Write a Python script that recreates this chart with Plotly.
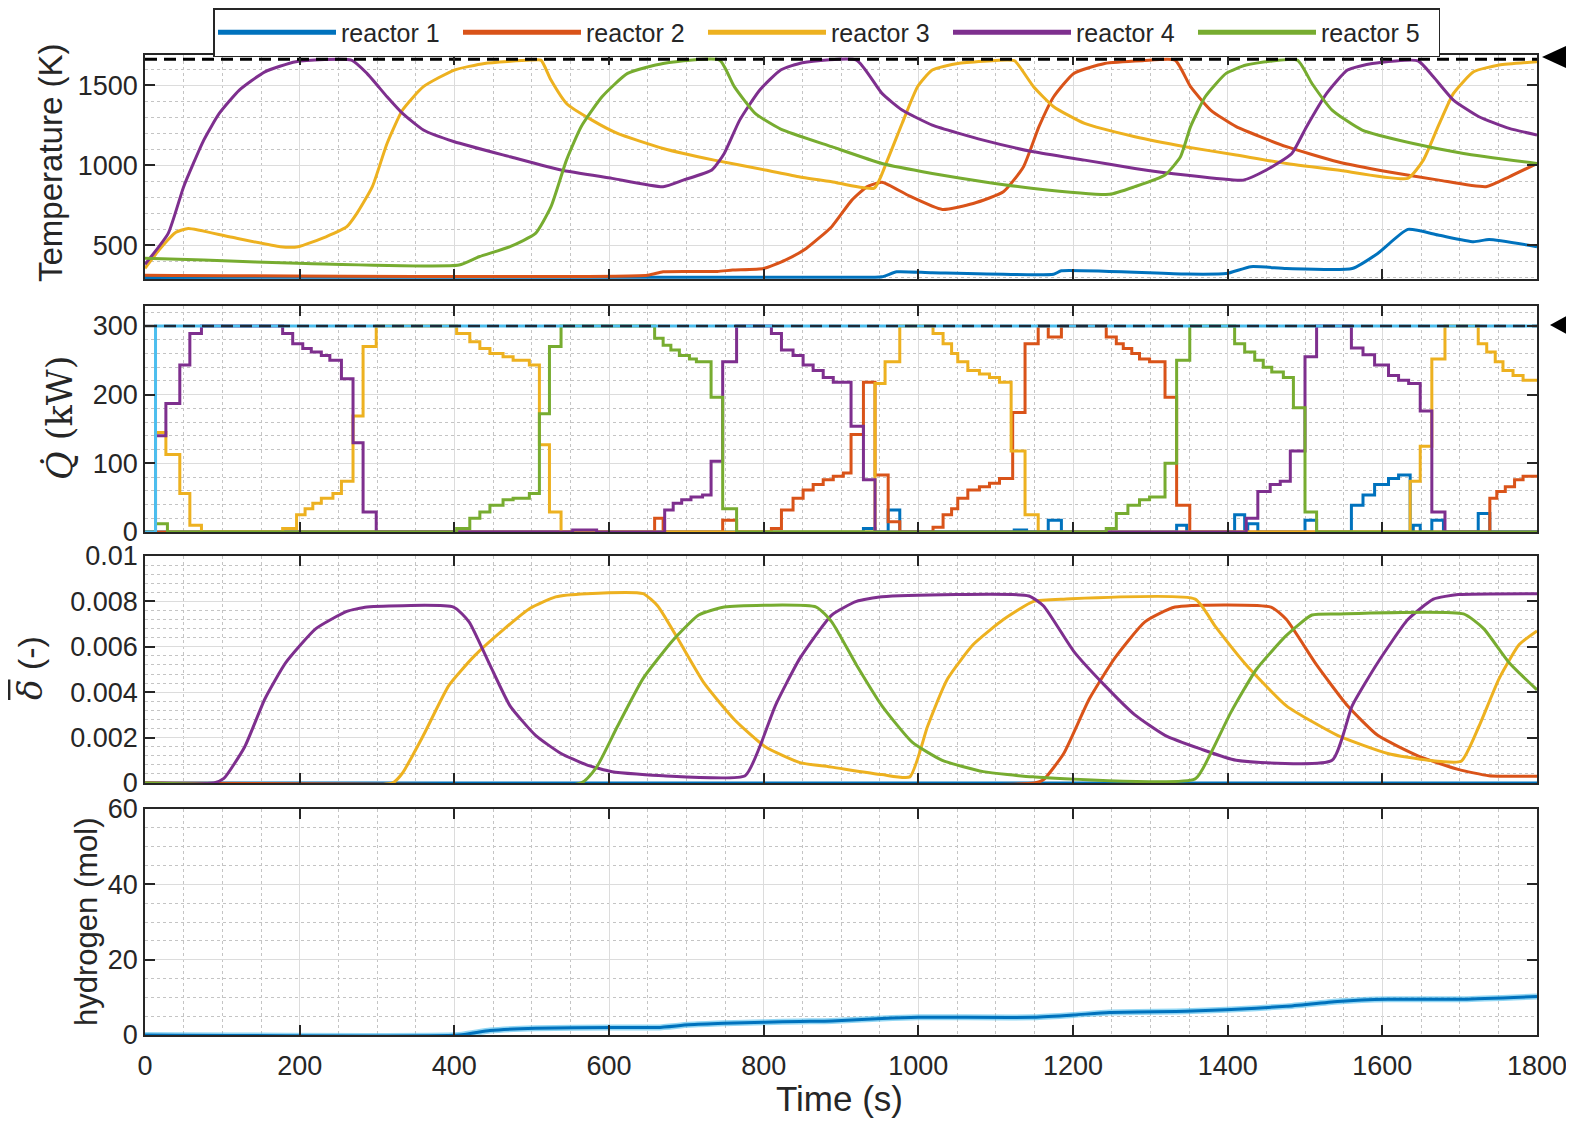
import plotly.graph_objects as go
from plotly.subplots import make_subplots

NAMES = ["reactor 1", "reactor 2", "reactor 3", "reactor 4", "reactor 5"]
COLORS = ["#0072BD", "#D95319", "#EDB120", "#7E2F8E", "#77AC30"]
CYAN = "#4DBEEE"

# ---------------- Temperature (K) ----------------
temp_t1 = [0, 900, 953, 972, 1018, 1175, 1185, 1345, 1398, 1430, 1476, 1561, 1594, 1633, 1672, 1718, 1738, 1800]
temp_v1 = [298, 299, 302, 333, 327, 318, 340, 319, 322, 365, 354, 354, 448, 598, 563, 521, 535, 490]

temp_t2 = [0, 650, 670, 740, 760, 800, 828, 855, 888, 914, 934, 953, 986, 1031, 1071, 1110, 1136, 1156, 1175,
           1201, 1241, 1290, 1332, 1352, 1378, 1411, 1476, 1542, 1607, 1673, 1734, 1764, 1800]
temp_v2 = [312, 312, 333, 335, 344, 354, 406, 479, 615, 781, 865, 893, 813, 723, 760, 833, 990, 1240, 1427,
           1573, 1635, 1652, 1656, 1490, 1344, 1240, 1115, 1021, 958, 906, 865, 927, 1010]

temp_t3 = [0, 20, 40, 56, 109, 175, 198, 234, 261, 274, 294, 313, 333, 360, 400, 439, 498, 512, 525, 545, 578,
           611, 670, 736, 802, 847, 888, 943, 960, 979, 999, 1018, 1051, 1116, 1125, 1149, 1175, 1215, 1280,
           1345, 1411, 1476, 1542, 1633, 1653, 1672, 1692, 1718, 1751, 1800]
temp_v3 = [355, 480, 580, 604, 552, 490, 490, 552, 615, 698, 865, 1135, 1344, 1490, 1594, 1635, 1656, 1656,
           1531, 1385, 1281, 1198, 1104, 1031, 969, 925, 896, 856, 1031, 1260, 1490, 1594, 1635, 1656, 1650,
           1490, 1365, 1260, 1177, 1115, 1063, 1010, 969, 917, 1031, 1240, 1448, 1583, 1625, 1646]

temp_t4 = [0, 30, 50, 76, 96, 122, 155, 195, 267, 287, 313, 333, 360, 400, 472, 538, 604, 670, 696, 733, 749,
           769, 795, 822, 850, 920, 953, 979, 1018, 1084, 1149, 1215, 1280, 1345, 1420, 1450, 1483, 1502,
           1528, 1555, 1587, 1646, 1666, 1692, 1725, 1764, 1800]
temp_v4 = [380, 573, 865, 1156, 1323, 1469, 1583, 1646, 1656, 1573, 1427, 1323, 1219, 1146, 1052, 969, 917,
           865, 906, 969, 1073, 1281, 1469, 1594, 1640, 1656, 1448, 1344, 1250, 1156, 1083, 1031, 979, 938,
           906, 969, 1073, 1240, 1448, 1594, 1635, 1652, 1552, 1406, 1302, 1229, 1188]

temp_t5 = [0, 76, 208, 406, 432, 472, 505, 525, 545, 564, 591, 624, 670, 743, 762, 789, 822, 888, 953, 1018,
           1084, 1149, 1247, 1280, 1319, 1339, 1352, 1371, 1398, 1424, 1490, 1509, 1535, 1574, 1640, 1705, 1800]
temp_v5 = [417, 406, 385, 375, 427, 490, 573, 740, 1031, 1240, 1427, 1573, 1635, 1656, 1490, 1323, 1225, 1115,
           1010, 948, 896, 854, 817, 865, 938, 1052, 1240, 1427, 1573, 1625, 1656, 1510, 1344, 1219, 1135,
           1073, 1010]

temp_limit = 1662

# ---------------- Heat input Q (kW), step changes ----------------
q_t1 = [0, 929, 944, 961, 976, 1124, 1140, 1168, 1185, 1334, 1347, 1409, 1422, 1426, 1439, 1500, 1515,
        1560, 1575, 1590, 1608, 1621, 1636, 1640, 1649, 1664, 1679, 1724, 1739, 1800]
q_v1 = [0, 5, 0, 32, 0, 3, 0, 17, 0, 10, 0, 25, 0, 12, 0, 17, 0,
        39, 54, 69, 78, 83, 0, 10, 0, 17, 0, 27, 0, 0]

q_t2 = [0, 659, 670, 747, 765, 810, 823, 838, 851, 864, 877, 890, 903, 913, 929, 944, 961, 976,
        1019, 1032, 1043, 1051, 1064, 1079, 1092, 1105, 1122, 1138, 1155, 1168, 1185, 1243, 1256, 1265,
        1276, 1286, 1299, 1319, 1334, 1351, 1739, 1748, 1759, 1771, 1782, 1800]
q_v2 = [0, 20, 0, 17, 0, 5, 32, 49, 61, 69, 76, 81, 86, 142, 218, 83, 15, 0,
        7, 25, 34, 49, 61, 66, 71, 78, 174, 274, 300, 284, 300, 284, 274, 267,
        260, 252, 248, 196, 39, 0, 49, 59, 66, 76, 81, 81]

q_t3 = [0, 13.6, 27, 45, 58, 73, 178, 196, 207, 217, 228, 243, 254, 269, 282, 299, 403, 420, 433, 446,
        463, 476, 497, 510, 523, 538, 944, 957, 976, 1019, 1032, 1043, 1051, 1064, 1079, 1092, 1105,
        1120, 1138, 1155, 1636, 1649, 1664, 1681, 1724, 1735, 1746, 1756, 1769, 1782, 1800]
q_v3 = [0, 145, 113, 56, 10, 0, 5, 25, 34, 42, 49, 56, 74, 169, 270, 300, 289, 277, 267, 260,
        255, 250, 243, 127, 29, 0, 216, 248, 300, 289, 274, 260, 248, 235, 230, 225, 218,
        118, 25, 0, 74, 125, 252, 300, 274, 262, 248, 235, 228, 221, 221]

q_t4 = [0, 13.6, 27, 45, 58, 73, 178, 191, 204, 215, 228, 239, 254, 269, 282, 299, 553, 584,
        672, 683, 694, 706, 721, 732, 747, 765, 810, 823, 838, 851, 864, 877, 890, 913, 929, 944,
        1424, 1439, 1455, 1468, 1481, 1500, 1515, 1560, 1575, 1590, 1608, 1621, 1634, 1649, 1664, 1681, 1800]
q_v4 = [0, 140, 187, 243, 289, 300, 289, 274, 267, 262, 257, 250, 223, 130, 29, 0, 3, 0,
        32, 42, 47, 51, 54, 103, 248, 300, 289, 265, 257, 243, 235, 225, 218, 154, 76, 0,
        20, 59, 69, 74, 118, 255, 300, 268, 258, 243, 228, 221, 216, 176, 29, 0, 0]

q_t5 = [0, 13.6, 29, 403, 420, 433, 446, 463, 476, 497, 510, 523, 538, 659, 670, 680, 691, 704, 713,
        732, 747, 765, 1243, 1256, 1271, 1286, 1299, 1319, 1334, 1351, 1409, 1422, 1435, 1446, 1457,
        1472, 1485, 1500, 1515, 1800]
q_v5 = [0, 12, 0, 5, 20, 29, 39, 47, 49, 56, 172, 270, 300, 282, 272, 265, 257, 252, 248,
        196, 34, 0, 5, 27, 39, 47, 51, 100, 250, 300, 274, 262, 250, 240, 233,
        225, 181, 29, 0, 0]

q_total_t = [0, 13.6, 1800]
q_total_v = [0, 300, 300]
q_limit = 300

# ---------------- Mean delta (-) ----------------
d_t1 = [0, 1800]
d_v1 = [0, 0]

d_t2 = [0, 1150, 1162, 1188, 1221, 1254, 1293, 1332, 1456, 1476, 1515, 1555, 1594, 1646, 1698, 1738, 1800]
d_v2 = [0, 0, 0.00015, 0.0013, 0.0037, 0.0055, 0.0071, 0.00775, 0.00775, 0.0072, 0.0052, 0.0034, 0.0021,
        0.0012, 0.0006, 0.00032, 0.0003]

d_t3 = [0, 320, 333, 360, 393, 426, 465, 498, 531, 571, 644, 663, 690, 723, 762, 802, 847, 888, 953, 989,
        1012, 1038, 1071, 1110, 1149, 1188, 1358, 1384, 1424, 1476, 1542, 1607, 1659, 1702, 1725, 1751,
        1777, 1800]
d_v3 = [0, 0, 0.00044, 0.0021, 0.0043, 0.0056, 0.0068, 0.0077, 0.0082, 0.00834, 0.00834, 0.0078, 0.0063,
        0.0044, 0.0028, 0.0016, 0.0009, 0.0007, 0.00037, 0.00027, 0.0025, 0.0046, 0.0061, 0.0072, 0.0080,
        0.0081, 0.0081, 0.0069, 0.0052, 0.0034, 0.0021, 0.0013, 0.001, 0.00096, 0.0025, 0.0046, 0.0061,
        0.0067]

d_t4 = [0, 89, 102, 129, 155, 182, 221, 261, 287, 399, 419, 446, 472, 505, 538, 571, 604, 670, 776, 795,
        815, 847, 888, 920, 953, 1143, 1162, 1201, 1241, 1280, 1319, 1365, 1411, 1535, 1561, 1594, 1633,
        1666, 1698, 1800]
d_v4 = [0, 0, 0.0002, 0.0016, 0.0037, 0.0053, 0.0068, 0.00756, 0.00775, 0.00775, 0.0071, 0.0052, 0.0034,
        0.0021, 0.0013, 0.0008, 0.0005, 0.00032, 0.00032, 0.0016, 0.0034, 0.0055, 0.0074, 0.0080, 0.0082,
        0.00824, 0.0078, 0.0058, 0.0043, 0.0030, 0.0021, 0.0015, 0.0010, 0.0010, 0.0034, 0.0053, 0.0072,
        0.0081, 0.0083, 0.00834]

d_t5 = [0, 564, 584, 611, 644, 683, 716, 749, 868, 888, 920, 953, 992, 1031, 1084, 1149, 1358, 1378, 1404,
        1437, 1476, 1509, 1542, 1705, 1731, 1764, 1800]
d_v5 = [0, 0, 0.0007, 0.0025, 0.0046, 0.0063, 0.0074, 0.00775, 0.00775, 0.0071, 0.0052, 0.0034, 0.0018,
        0.001, 0.0005, 0.00027, 0.00018, 0.0013, 0.0031, 0.0050, 0.0065, 0.0074, 0.00745, 0.00745, 0.0068,
        0.0053, 0.0041]

# ---------------- Hydrogen (mol) ----------------
h_t = [0, 406, 446, 505, 604, 663, 703, 749, 802, 847, 888, 953, 1000, 1149, 1201, 1247, 1345, 1398, 1476,
       1542, 1607, 1705, 1800]
h_v = [0, 0, 1.2, 1.8, 2.0, 2.0, 2.7, 3.1, 3.4, 3.6, 3.7, 4.4, 4.7, 4.7, 5.3, 6.0, 6.3, 6.7, 7.6, 8.9, 9.5,
       9.5, 10.2]

x_ticks = [0, 200, 400, 600, 800, 1000, 1200, 1400, 1600, 1800]

temp_series = [(temp_t1, temp_v1), (temp_t2, temp_v2), (temp_t3, temp_v3), (temp_t4, temp_v4), (temp_t5, temp_v5)]
q_series = [(q_t1, q_v1), (q_t2, q_v2), (q_t3, q_v3), (q_t4, q_v4), (q_t5, q_v5)]
d_series = [(d_t1, d_v1), (d_t2, d_v2), (d_t3, d_v3), (d_t4, d_v4), (d_t5, d_v5)]

# page body adds an 8px margin, so the figure is made 8px smaller and margins shifted
OFF = 8
W, H = 1574 - OFF, 1123 - OFF
ML, MR, MT, MB = 145 - OFF, 37, 55 - OFF, 88
PW, PH = W - ML - MR, H - MT - MB


def px(xp):
    return (xp - OFF - ML) / PW


def py(yp):
    return (H + OFF - MB - yp) / PH


fig = make_subplots(rows=4, cols=1, shared_xaxes=True, vertical_spacing=0.02)

LW = 3
for i in range(5):
    t, v = temp_series[i]
    fig.add_trace(go.Scatter(x=t, y=v, mode="lines", name=NAMES[i], legendgroup=NAMES[i],
                             line=dict(color=COLORS[i], width=LW, shape="spline", smoothing=0.5)),
                  row=1, col=1)
fig.add_trace(go.Scatter(x=[0, 1800], y=[temp_limit, temp_limit], mode="lines", showlegend=False,
                         line=dict(color="black", width=3, dash="12px,7px")), row=1, col=1)

for i in range(5):
    t, v = q_series[i]
    fig.add_trace(go.Scatter(x=t, y=v, mode="lines", name=NAMES[i], legendgroup=NAMES[i], showlegend=False,
                             line=dict(color=COLORS[i], width=LW, shape="hv")), row=2, col=1)
fig.add_trace(go.Scatter(x=q_total_t, y=q_total_v, mode="lines", showlegend=False,
                         line=dict(color=CYAN, width=LW, shape="hv")), row=2, col=1)
fig.add_trace(go.Scatter(x=[0, 1800], y=[q_limit, q_limit], mode="lines", showlegend=False,
                         line=dict(color="#1a2a3a", width=2.5, dash="12px,7px")), row=2, col=1)

for i in range(5):
    t, v = d_series[i]
    fig.add_trace(go.Scatter(x=t, y=v, mode="lines", name=NAMES[i], legendgroup=NAMES[i], showlegend=False,
                             line=dict(color=COLORS[i], width=LW, shape="spline", smoothing=0.5)),
                  row=3, col=1)

fig.add_trace(go.Scatter(x=h_t, y=h_v, mode="lines", showlegend=False,
                         line=dict(color=CYAN, width=6, shape="spline", smoothing=0.5), opacity=0.6),
              row=4, col=1)
fig.add_trace(go.Scatter(x=h_t, y=h_v, mode="lines", showlegend=False,
                         line=dict(color=COLORS[0], width=LW, shape="spline", smoothing=0.5)),
              row=4, col=1)

TXT = "#262626"
FONT = "Liberation Sans, Arial, sans-serif"
axis_common = dict(showline=True, linecolor=TXT, linewidth=1.5, mirror="allticks", ticks="inside",
                   ticklen=10, tickwidth=1.5, tickcolor=TXT, showgrid=True, gridcolor="#dcdcdc",
                   gridwidth=1, zeroline=False, tickfont=dict(family=FONT, size=27, color=TXT))

for r in range(1, 5):
    fig.update_xaxes(range=[0, 1800], tickvals=x_ticks, showticklabels=(r == 4),
                     minor=dict(dtick=50, tick0=0, showgrid=True, gridcolor="#c4c4c4", griddash="dot",
                                gridwidth=1, ticks=""),
                     ticklabelstandoff=6, **axis_common, row=r, col=1)

fig.update_yaxes(range=[288, 1688], tickvals=[500, 1000, 1500],
                 minor=dict(dtick=100, tick0=0, showgrid=True, gridcolor="#c4c4c4", griddash="dot", ticks=""),
                 **axis_common, row=1, col=1)
fig.update_yaxes(range=[0, 329], tickvals=[0, 100, 200, 300],
                 minor=dict(dtick=20, tick0=0, showgrid=True, gridcolor="#c4c4c4", griddash="dot", ticks=""),
                 **axis_common, row=2, col=1)
fig.update_yaxes(range=[0, 0.01], tickvals=[0, 0.002, 0.004, 0.006, 0.008, 0.01],
                 ticktext=["0", "0.002", "0.004", "0.006", "0.008", "0.01"],
                 minor=dict(dtick=0.0004, tick0=0, showgrid=True, gridcolor="#c4c4c4", griddash="dot", ticks=""),
                 **axis_common, row=3, col=1)
fig.update_yaxes(range=[0, 60], tickvals=[0, 20, 40, 60],
                 minor=dict(dtick=5, tick0=0, showgrid=True, gridcolor="#c4c4c4", griddash="dot", ticks=""),
                 **axis_common, row=4, col=1)

fig.layout.yaxis.domain = [py(279), py(55)]
fig.layout.yaxis2.domain = [py(532), py(306)]
fig.layout.yaxis3.domain = [py(783), py(556)]
fig.layout.yaxis4.domain = [py(1035), py(809)]

annotations = [
    dict(text="Temperature (K)", x=px(50), y=py(163), textangle=-90,
         font=dict(family=FONT, size=33, color=TXT)),
    dict(text="<i>Q̇</i> (kW)", x=px(60), y=py(418), textangle=-90,
         font=dict(family="DejaVu Serif, Liberation Serif, serif", size=35, color=TXT)),
    dict(text="<span style='font-family:DejaVu Serif;text-decoration:overline'><i>δ</i></span> (-)",
         x=px(30), y=py(668), textangle=-90, font=dict(family=FONT, size=34, color=TXT)),
    dict(text="hydrogen (mol)", x=px(86), y=py(922), textangle=-90,
         font=dict(family=FONT, size=31, color=TXT)),
    dict(text="Time (s)", x=px(839), y=py(1098), textangle=0,
         font=dict(family=FONT, size=35, color=TXT)),
]
for a in annotations:
    a.update(xref="paper", yref="paper", showarrow=False, xanchor="center", yanchor="middle")

shapes = [
    dict(type="path", xref="paper", yref="paper",
         path=f"M{px(1542)},{py(57)} L{px(1566)},{py(46)} L{px(1566)},{py(68)} Z",
         fillcolor="black", line=dict(width=0)),
    dict(type="line", xref="paper", yref="paper", x0=px(1562), x1=px(1574), y0=py(57), y1=py(57),
         line=dict(color="black", width=4)),
    dict(type="path", xref="paper", yref="paper",
         path=f"M{px(1550)},{py(325)} L{px(1574)},{py(312)} L{px(1574)},{py(338)} Z",
         fillcolor="black", line=dict(width=0)),
]

fig.update_layout(
    width=W, height=H,
    margin=dict(l=ML, r=MR, t=MT, b=MB, pad=0, autoexpand=False),
    paper_bgcolor="white", plot_bgcolor="white",
    font=dict(family=FONT, color=TXT),
    showlegend=True,
    legend=dict(orientation="h", x=px(213), y=py(8), xanchor="left", yanchor="top",
                font=dict(family=FONT, size=25, color=TXT), bgcolor="white",
                bordercolor=TXT, borderwidth=1.5, itemwidth=118, entrywidth=112,
                tracegroupgap=0, itemsizing="constant"),
    annotations=annotations,
    shapes=shapes,
)

fig.write_html("out.html")
